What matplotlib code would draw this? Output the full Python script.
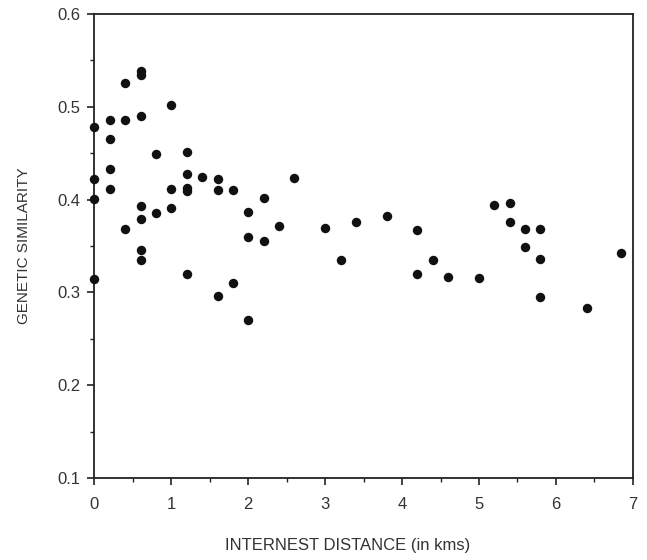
import matplotlib
matplotlib.use("Agg")
import matplotlib.pyplot as plt
from matplotlib.ticker import MultipleLocator

distance = [0.0, 0.2, 0.4, 0.4, 0.6, 0.6, 0.6, 0.2, 1.0, 0.0, 0.2, 0.8, 1.2, 1.2,
            1.4, 1.6, 0.2, 1.0, 1.2, 1.2, 1.6, 1.8, 2.2, 0.0, 0.6, 0.6, 0.4, 0.8,
            1.0, 0.6, 0.6, 0.0, 1.2, 1.6, 1.8, 2.0, 2.0, 2.0, 2.2, 2.4, 2.6, 3.0,
            3.4, 3.8, 3.2, 4.2, 4.2, 4.4, 4.6, 5.0, 5.2, 5.4, 5.4, 5.6, 5.8, 5.6,
            5.8, 5.8, 6.4, 6.85]
similarity = [0.478, 0.486, 0.486, 0.526, 0.539, 0.534, 0.490, 0.465, 0.502, 0.4225,
              0.433, 0.449, 0.451, 0.428, 0.424, 0.422, 0.411, 0.411, 0.412, 0.409,
              0.410, 0.410, 0.402, 0.401, 0.393, 0.379, 0.368, 0.386, 0.391, 0.346,
              0.335, 0.314, 0.320, 0.296, 0.310, 0.387, 0.360, 0.2705, 0.355, 0.372,
              0.4235, 0.369, 0.376, 0.382, 0.335, 0.367, 0.320, 0.335, 0.317, 0.315,
              0.394, 0.396, 0.376, 0.368, 0.368, 0.349, 0.336, 0.295, 0.283, 0.342]

x_ticks = [0, 1, 2, 3, 4, 5, 6, 7]
y_ticks = [0.1, 0.2, 0.3, 0.4, 0.5, 0.6]

plt.rcParams['font.family'] = ['Liberation Sans', 'DejaVu Sans']
fig = plt.figure(figsize=(6.47, 5.60), dpi=100)
ax = fig.add_axes([0.146, 0.1464, 0.832, 0.8286])

ax.plot(distance, similarity, 'o', color='#111111', markersize=6.8,
        markeredgewidth=0, clip_on=False, zorder=3)

ax.set_xlim(0, 7)
ax.set_ylim(0.1, 0.6)
ax.set_xticks(x_ticks)
ax.set_xticklabels([str(t) for t in x_ticks])
ax.set_yticks(y_ticks)
ax.set_yticklabels([f"{t:.1f}" for t in y_ticks])
ax.xaxis.set_minor_locator(MultipleLocator(0.5))
ax.yaxis.set_minor_locator(MultipleLocator(0.05))
ax.tick_params(which='both', direction='out', top=False, right=False, color='#222222')
ax.tick_params(which='major', length=5, width=1.2, labelsize=12, labelcolor='#333333')
ax.tick_params(axis='x', which='major', pad=9)
ax.tick_params(axis='y', which='major', pad=5)
ax.tick_params(which='minor', length=3, width=1.0)
for sp in ax.spines.values():
    sp.set_linewidth(1.3)
    sp.set_color('#222222')

ax.set_xlabel('INTERNEST DISTANCE (in kms)', fontsize=12, color='#333333')
ax.xaxis.set_label_coords(0.47, -0.129)
ax.set_ylabel('GENETIC SIMILARITY', fontsize=11, color='#333333')
ax.yaxis.set_label_coords(-0.117, 0.5)

fig.savefig('out.png', dpi=100)
